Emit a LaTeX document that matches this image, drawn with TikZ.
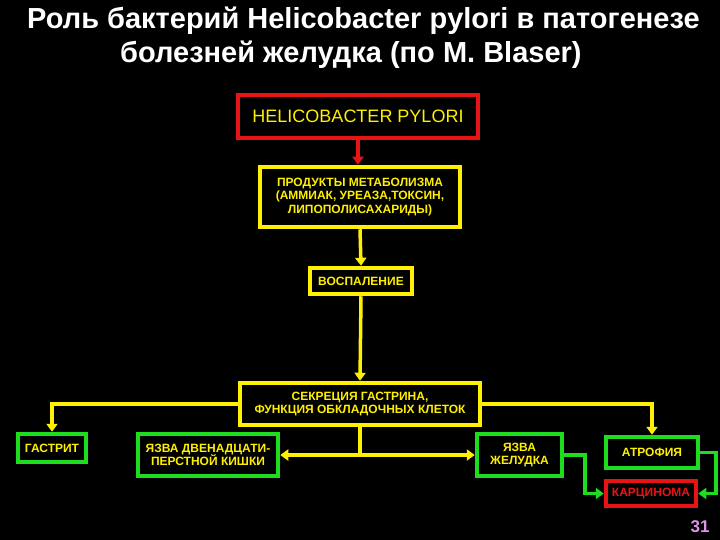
\documentclass[tikz,border=0pt]{standalone}
\usepackage{fontspec}
\setmainfont{Liberation Sans}
\usetikzlibrary{arrows.meta}
\definecolor{yel}{RGB}{255,240,0}
\definecolor{grn}{RGB}{30,220,30}
\definecolor{rd}{RGB}{230,20,20}
\definecolor{pk}{RGB}{220,150,230}
\tikzset{
 bx/.style={draw=yel,line width=4.5pt,fill=black,text=yel,font=\bfseries\fontsize{12}{13.5}\selectfont,align=center,inner sep=0pt},
 gbx/.style={bx,draw=grn},
 yl/.style={draw=yel,line width=3.5pt,-{Triangle[length=8pt,width=11pt]}},
 gl/.style={draw=grn,line width=3.5pt,-{Triangle[length=8pt,width=11pt]}},
}
\begin{document}
\begin{tikzpicture}[x=1pt,y=-1pt]
\fill[black] (0,0) rectangle (720,540);
\useasboundingbox (0,0) rectangle (720,540);
\node[text=white,font=\bfseries\fontsize{29}{32}\selectfont,anchor=west,inner sep=0pt] (t1) at (27,21) {Роль бактерий Helicobacter pylori в патогенезе};
\node[text=white,font=\bfseries\fontsize{29}{32}\selectfont,anchor=west,inner sep=0pt] (t2) at (120,55) {болезней желудка (по M. Blaser)};
\node[bx,draw=rd,minimum width=240,minimum height=43,font=\fontsize{18}{20}\selectfont] (hp) at (358,116.5) {HELICOBACTER PYLORI};
\node[bx,minimum width=200,minimum height=60] (pr) at (360,197) {ПРОДУКТЫ МЕТАБОЛИЗМА\\(АММИАК, УРЕАЗА,ТОКСИН,\\ЛИПОПОЛИСАХАРИДЫ)};
\node[bx,minimum width=102,minimum height=26] (inf) at (361,281) {ВОСПАЛЕНИЕ};
\node[bx,minimum width=240,minimum height=42] (sec) at (360,404) {СЕКРЕЦИЯ ГАСТРИНА,\\ФУНКЦИЯ ОБКЛАДОЧНЫХ КЛЕТОК};
\node[gbx,minimum width=68,minimum height=28] (ga) at (52,448) {ГАСТРИТ};
\node[gbx,minimum width=140,minimum height=42] (ud) at (208,455) {ЯЗВА ДВЕНАДЦАТИ-\\ПЕРСТНОЙ КИШКИ};
\node[gbx,minimum width=85,minimum height=42] (us) at (519.5,455) {ЯЗВА\\ЖЕЛУДКА};
\node[gbx,minimum width=92,minimum height=31] (at) at (652,452.5) {АТРОФИЯ};
\node[bx,draw=rd,text=rd,minimum width=90,minimum height=25] (ca) at (651,493.5) {КАРЦИНОМА};
\node[text=pk,font=\bfseries\fontsize{17}{18}\selectfont] (pn) at (700,527) {31};
\draw[yl,draw=rd] (hp.south) -- (pr.north -| hp.south);
\draw[yl] (pr.south) -- (inf.north);
\draw[yl] (inf.south) -- (sec.north);
\draw[yl] (sec.west) -| (ga.north);
\draw[yl] (sec.east) -| (at.north);
\coordinate (mid) at (360,455);
\draw[draw=yel,line width=3.5pt] (sec.south) -- (mid);
\draw[draw=yel,line width=3.5pt,{Triangle[length=8pt,width=11pt]}-{Triangle[length=8pt,width=11pt]}] (ud.east) -- (us.west);
\draw[gl] (us.east) -- (585,455) |- (ca.west);
\draw[gl] (at.east) -- (716,452.5) |- (ca.east);
\end{tikzpicture}
\end{document}
